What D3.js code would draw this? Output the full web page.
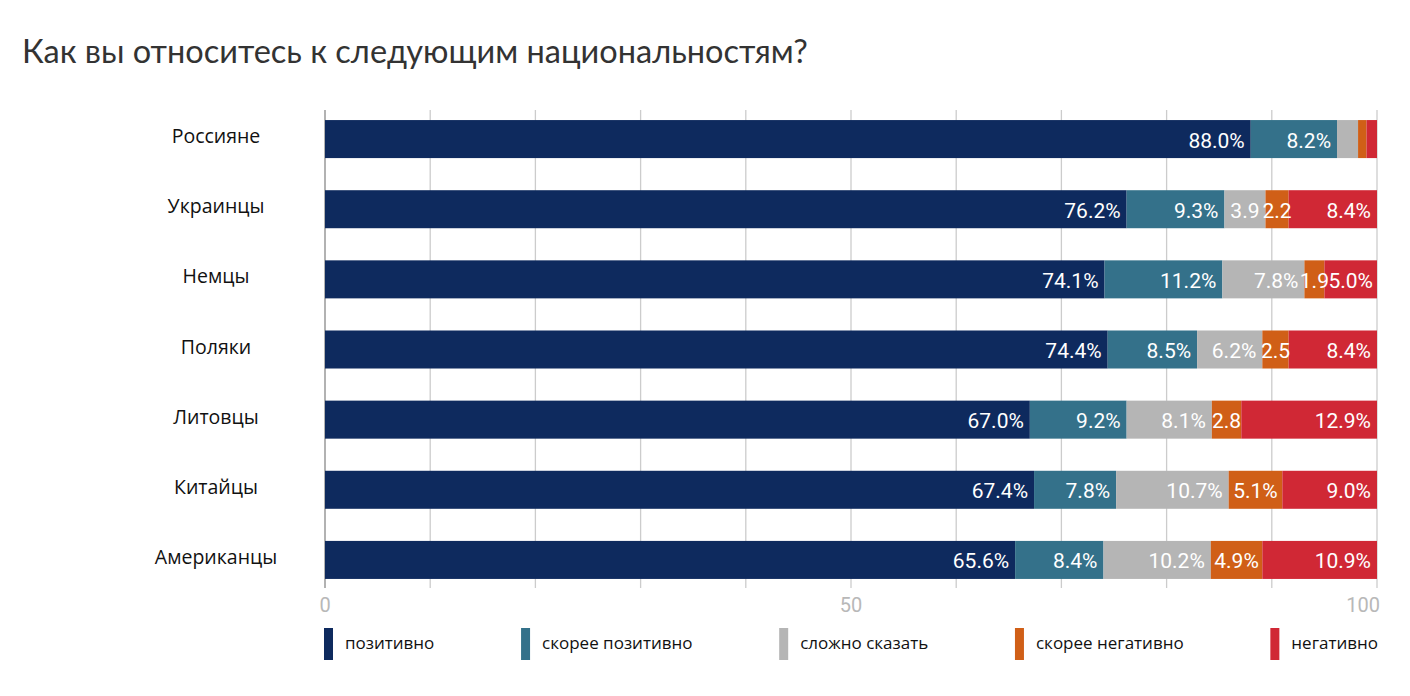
<!DOCTYPE html>
<html><head><meta charset="utf-8">
<script src="https://cdn.jsdelivr.net/npm/d3@7"></script>
<style>body{margin:0;background:#fff}svg{display:block}</style>
</head><body>
<svg id="chart" width="1410" height="696"></svg>
<script>
const title = "Как вы относитесь к следующим национальностям?";
const categories = ["Россияне","Украинцы","Немцы","Поляки","Литовцы","Китайцы","Американцы"];
const seriesNames = ["позитивно","скорее позитивно","сложно сказать","скорее негативно","негативно"];
const positive     = [88.0, 76.2, 74.1, 74.4, 67.0, 67.4, 65.6];
const ratherPos    = [8.2, 9.3, 11.2, 8.5, 9.2, 7.8, 8.4];
const hardToSay    = [2.0, 3.9, 7.8, 6.2, 8.1, 10.7, 10.2];
const ratherNeg    = [0.8, 2.2, 1.9, 2.5, 2.8, 5.1, 4.9];
const negative     = [1.0, 8.4, 5.0, 8.4, 12.9, 9.0, 10.9];
// labels as they appear on the picture ("" = no label shown)
const segmentLabels = [
  ["88.0%","8.2%","","",""],
  ["76.2%","9.3%","3.9","2.2","8.4%"],
  ["74.1%","11.2%","7.8%","1.9","5.0%"],
  ["74.4%","8.5%","6.2%","2.5","8.4%"],
  ["67.0%","9.2%","8.1%","2.8","12.9%"],
  ["67.4%","7.8%","10.7%","5.1%","9.0%"],
  ["65.6%","8.4%","10.2%","4.9%","10.9%"]
];
const xTicks = [0, 50, 100];
const colors = ["#0e2a5e","#34718a","#b5b5b5","#d05f17","#d02835"];

const series = [positive, ratherPos, hardToSay, ratherNeg, negative];
const svg = d3.select("#chart");

svg.append("text").attr("x",22).attr("y",63)
  .attr("font-family","Lato, sans-serif").attr("font-size",32.5).attr("fill","#333")
  .text(title);

const x = d3.scaleLinear().domain([0,100]).range([325,1377]);
const y = d3.scaleBand().domain(categories).range([104,595]).paddingInner(0.458).paddingOuter(0.229);

// grid
const gridTicks = d3.range(10, 101, 10);
svg.append("g").selectAll("line").data(gridTicks).join("line")
  .attr("x1",d=>x(d)).attr("x2",d=>x(d)).attr("y1",110).attr("y2",588)
  .attr("stroke","#cccccc").attr("stroke-width",1.3);
svg.append("line").attr("x1",x(0)).attr("x2",x(0)).attr("y1",110).attr("y2",588)
  .attr("stroke","#999").attr("stroke-width",1.5);

// stacked data
const rows = categories.map((c,i)=>{
  let acc = 0;
  return series.map((s,k)=>{ const v=s[i]; const seg={cat:c,k,x0:acc,x1:acc+v,v,label:segmentLabels[i][k]}; acc+=v; return seg; });
}).flat();

const g = svg.append("g");
g.selectAll("rect").data(rows).join("rect")
  .attr("x",d=>x(d.x0)).attr("width",d=>x(d.x1)-x(d.x0))
  .attr("y",d=>y(d.cat)).attr("height",y.bandwidth())
  .attr("fill",d=>colors[d.k]);

const labels = g.selectAll("text").data(rows.filter(d=>d.label)).join("text")
  .attr("y",d=>y(d.cat)+y.bandwidth()/2+1).attr("dy","0.36em")
  .attr("font-family","Roboto, sans-serif").attr("font-size",21).attr("fill","#fff")
  .text(d=>d.label);
labels.each(function(d){
  const w = this.getComputedTextLength();
  const segW = x(d.x1)-x(d.x0);
  const el = d3.select(this);
  if (w + 10 > segW) { el.attr("x",(x(d.x0)+x(d.x1))/2).attr("text-anchor","middle"); }
  else { el.attr("x",x(d.x1)-6).attr("text-anchor","end"); }
});

// category labels
svg.append("g").selectAll("text").data(categories).join("text")
  .attr("x",216).attr("y",d=>y(d)+y.bandwidth()/2-3).attr("dy","0.36em")
  .attr("text-anchor","middle").attr("font-family","'Open Sans', sans-serif").attr("font-size",19.5)
  .attr("fill","#111").text(d=>d);

// x tick labels
svg.append("g").selectAll("text").data(xTicks).join("text")
  .attr("x",(d,i)=> i===xTicks.length-1 ? x(d)+3 : x(d))
  .attr("y",612)
  .attr("text-anchor",(d,i)=> i===xTicks.length-1 ? "end" : "middle")
  .attr("font-family","Roboto, sans-serif").attr("font-size",20).attr("fill","#b8b8b8")
  .text(d=>d);

// legend, spread to span the plot width
const lg = svg.append("g");
const items = lg.selectAll("g").data(seriesNames).join("g");
items.append("rect").attr("width",9).attr("height",32).attr("y",628).attr("fill",(d,i)=>colors[i]);
items.append("text").attr("x",21).attr("y",643).attr("dy","0.36em")
  .attr("font-family","'Open Sans', sans-serif").attr("font-size",17).attr("fill","#111").text(d=>d);
const widths = [];
items.select("text").each(function(){ widths.push(21 + this.getComputedTextLength()); });
const totalW = d3.sum(widths);
const gap = (1378 - 324 - totalW) / (seriesNames.length - 1);
let cx = 324;
items.each(function(d,i){ d3.select(this).attr("transform",`translate(${cx},0)`); cx += widths[i] + gap; });
</script>
</body></html>
